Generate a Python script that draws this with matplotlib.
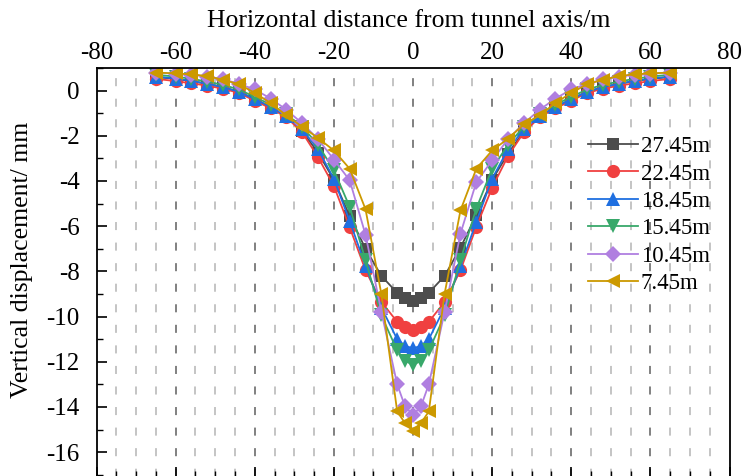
import matplotlib
matplotlib.use("Agg")
import matplotlib.pyplot as plt
from matplotlib.ticker import MultipleLocator

plt.rcParams['font.family'] = ['Liberation Serif', 'DejaVu Serif']
plt.rcParams['axes.unicode_minus'] = False
plt.rcParams['lines.scale_dashes'] = False

# horizontal distance from tunnel axis (m)
x = [-65, -60, -56, -52, -48, -44, -40, -36, -32, -28, -24, -20, -16, -12, -8, -4, -2,
     0, 2, 4, 8, 12, 16, 20, 24, 28, 32, 36, 40, 44, 48, 52, 56, 60, 65]

# vertical displacement (mm) for each excavation depth
d_2745 = [0.60, 0.52, 0.42, 0.30, 0.15, -0.05, -0.38, -0.72, -1.15, -1.80, -2.75, -3.95, -5.55, -7.00, -8.20, -8.95, -9.20,
          -9.30, -9.20, -8.95, -8.20, -6.95, -5.52, -3.95, -2.80, -1.80, -1.15, -0.72, -0.38, -0.05, 0.15, 0.30, 0.42, 0.52, 0.60]
d_2245 = [0.52, 0.42, 0.32, 0.22, 0.08, -0.10, -0.45, -0.78, -1.18, -1.85, -2.95, -4.22, -6.05, -7.95, -9.35, -10.23, -10.48,
          -10.58, -10.48, -10.23, -9.35, -7.95, -6.03, -4.30, -2.90, -1.85, -1.18, -0.78, -0.45, -0.10, 0.08, 0.22, 0.32, 0.42, 0.52]
d_1845 = [0.62, 0.53, 0.43, 0.30, 0.15, -0.05, -0.38, -0.72, -1.12, -1.72, -2.60, -3.90, -5.78, -7.75, -9.60, -11.00, -11.30,
          -11.40, -11.30, -11.00, -9.60, -7.78, -5.81, -3.90, -2.60, -1.72, -1.12, -0.72, -0.38, -0.05, 0.15, 0.30, 0.43, 0.53, 0.62]
d_1545 = [0.70, 0.62, 0.52, 0.40, 0.25, 0.05, -0.28, -0.62, -1.05, -1.60, -2.40, -3.52, -5.15, -7.50, -9.95, -11.50, -11.95,
          -12.15, -11.95, -11.50, -9.95, -7.50, -5.22, -3.46, -2.40, -1.60, -1.05, -0.62, -0.28, 0.05, 0.25, 0.40, 0.52, 0.62, 0.70]
d_1045 = [0.80, 0.75, 0.70, 0.62, 0.50, 0.30, 0.05, -0.35, -0.85, -1.45, -2.15, -3.05, -3.97, -6.38, -9.78, -13.00, -13.98,
          -14.35, -13.98, -13.00, -9.78, -6.33, -4.05, -3.09, -2.15, -1.45, -0.85, -0.35, 0.05, 0.30, 0.50, 0.62, 0.70, 0.75, 0.80]
d_745 = [0.80, 0.76, 0.72, 0.64, 0.48, 0.28, -0.10, -0.55, -1.10, -1.60, -2.10, -2.65, -3.46, -5.25, -9.00, -14.20, -14.72,
         -15.05, -14.72, -14.20, -8.98, -5.30, -3.46, -2.65, -2.13, -1.50, -1.10, -0.55, -0.10, 0.28, 0.48, 0.64, 0.72, 0.76, 0.80]

labels = ['27.45m', '22.45m', '18.45m', '15.45m', '10.45m', '7.45m']
series = [d_2745, d_2245, d_1845, d_1545, d_1045, d_745]
colors = ['#4d4d4d', '#f04040', '#1f6fe0', '#38a86a', '#b07fe0', '#cc9900']
markers = ['s', 'o', '^', 'v', 'D', '<']
sizes = [9.0, 9.5, 10.5, 10.5, 8.5, 10.5]

YTOP, YBOT = 1.0, -17.1

fig = plt.figure(figsize=(7.44, 4.76), dpi=100)
ax = fig.add_axes([96.5 / 744, -1 / 476, 633 / 744, 409 / 476])

# dashed vertical guides every 5 m, darker at the labelled ticks
for gx in range(-75, 80, 5):
    major = gx % 20 == 0
    ax.plot([gx, gx], [YTOP, YBOT], color='#808080' if major else '#c4c4c4',
            lw=1.4, linestyle=(7.5, (5.8, 9.0)), zorder=0)

for vals, lab, c, m, s in zip(series, labels, colors, markers, sizes):
    ax.plot(x, vals, color=c, marker=m, markersize=s, lw=1.3, label=lab,
            markeredgewidth=0)

ax.set_xlim(-80, 80)
ax.set_ylim(YBOT, YTOP)
ax.xaxis.set_major_locator(MultipleLocator(20))
ax.xaxis.set_minor_locator(MultipleLocator(5))
ax.yaxis.set_major_locator(MultipleLocator(2))
ax.yaxis.set_minor_locator(MultipleLocator(1))

ax.tick_params(axis='x', which='both', direction='in', top=False, labeltop=True,
               bottom=True, labelbottom=False, labelsize=18, pad=3)
ax.tick_params(axis='y', which='both', direction='in', left=True, right=False,
               labelsize=18, pad=12)
ax.tick_params(which='major', length=7.5, width=1.2)
ax.tick_params(which='minor', length=4, width=1.0)
for sp in ax.spines.values():
    sp.set_linewidth(1.3)

ax.xaxis.set_label_position('top')
ax.set_xlabel('Horizontal distance from tunnel axis/m', fontsize=18.5)
ax.set_ylabel('Vertical displacement/ mm', fontsize=18.5)
ax.xaxis.set_label_coords(0.493, 1.100)
ax.yaxis.set_label_coords(-0.100, 0.53)

ax.legend(loc='upper left', bbox_to_anchor=(588 / 744, 1 - 136 / 476),
          bbox_transform=fig.transFigure, frameon=False, fontsize=16.5,
          borderpad=0, borderaxespad=0, handlelength=2.2, handletextpad=0.1,
          labelspacing=0.28)

fig.savefig('out.png', dpi=100, facecolor='white')
